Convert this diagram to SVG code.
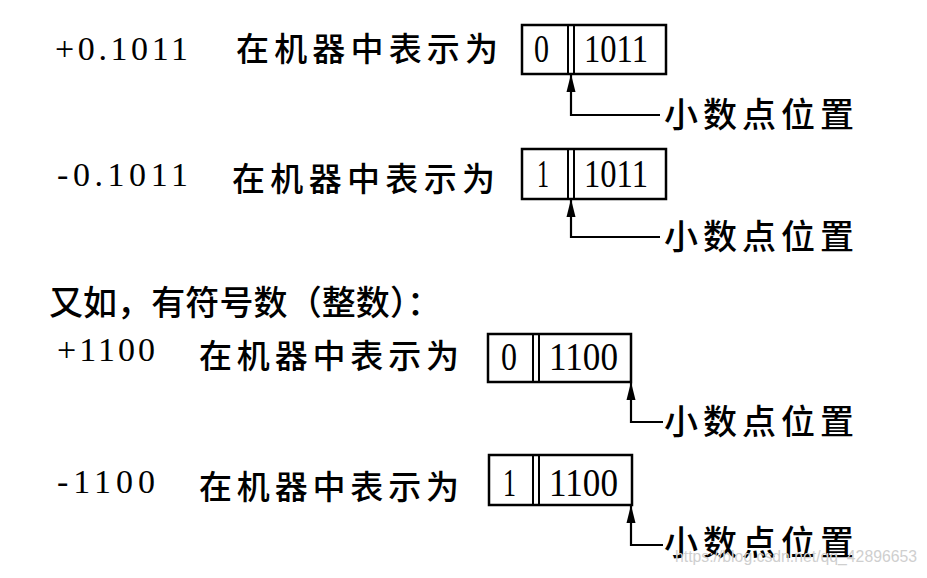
<svg xmlns="http://www.w3.org/2000/svg" width="927" height="578" viewBox="0 0 927 578">
<style>
  .num { font-family: "Liberation Serif", "Times New Roman", serif; font-size: 34px; fill: #000; }
  .cell { font-family: "Liberation Serif", "Times New Roman", serif; font-size: 39px; fill: #000; }
  .cjk { font-family: "Noto Sans CJK SC", sans-serif; font-weight: 500; font-size: 33px; fill: #000; }
  .lbl { font-family: "Noto Sans CJK SC", sans-serif; font-weight: 500; font-size: 34px; fill: #000; }
  .box { fill: #fff; stroke: #000; stroke-width: 2.5; }
  .div { stroke: #000; stroke-width: 2; }
  .conn { fill: none; stroke: #000; stroke-width: 2.2; marker-end: url(#ah); }
  .wm { font-family: "Liberation Sans", Arial, sans-serif; font-size: 16px; fill: #cfcfcf; }
</style>
<defs>
  <marker id="ah" markerWidth="18" markerHeight="10" refX="17" refY="5" orient="auto" markerUnits="userSpaceOnUse" viewBox="0 0 18 10">
    <path d="M18 5 L0 0.5 L0 9.5 Z" fill="#000"/>
  </marker>
</defs>
<rect width="927" height="578" fill="#fff"/>

<g id="row1">
  <text class="num" x="55" y="60" textLength="133" lengthAdjust="spacing">+0.1011</text>
  <text class="cjk" x="236" y="61" textLength="262" lengthAdjust="spacing">在机器中表示为</text>
</g>
<g id="box1">
  <rect class="box" x="522" y="25" width="144" height="49"/>
  <line class="div" x1="568" y1="25" x2="568" y2="74"/>
  <line class="div" x1="574" y1="25" x2="574" y2="74"/>
  <text class="cell" x="534" y="62" textLength="15" lengthAdjust="spacingAndGlyphs">0</text>
  <text class="cell" x="584" y="62" textLength="64" lengthAdjust="spacingAndGlyphs">1011</text>
</g>
<g id="label1"><text class="lbl" x="664" y="127" textLength="190" lengthAdjust="spacing">小数点位置</text></g>

<g id="row2">
  <text class="num" x="57" y="186" textLength="131" lengthAdjust="spacing">-0.1011</text>
  <text class="cjk" x="232" y="191" textLength="263" lengthAdjust="spacing">在机器中表示为</text>
</g>
<g id="box2">
  <rect class="box" x="522" y="149" width="144" height="50"/>
  <line class="div" x1="568" y1="149" x2="568" y2="199"/>
  <line class="div" x1="574" y1="149" x2="574" y2="199"/>
  <text class="cell" x="537" y="187" textLength="12" lengthAdjust="spacingAndGlyphs">1</text>
  <text class="cell" x="584" y="187" textLength="64" lengthAdjust="spacingAndGlyphs">1011</text>
</g>
<g id="label2"><text class="lbl" x="664" y="249" textLength="190" lengthAdjust="spacing">小数点位置</text></g>

<g id="row3">
  <text class="lbl" x="49" y="315" textLength="392" lengthAdjust="spacing">又如，有符号数（整数）：</text>
</g>

<g id="row4">
  <text class="num" x="57" y="361" textLength="98" lengthAdjust="spacing">+1100</text>
  <text class="cjk" x="199" y="368" textLength="260" lengthAdjust="spacing">在机器中表示为</text>
</g>
<g id="box4">
  <rect class="box" x="488" y="334" width="143" height="48"/>
  <line class="div" x1="533" y1="334" x2="533" y2="382"/>
  <line class="div" x1="539" y1="334" x2="539" y2="382"/>
  <text class="cell" x="501" y="370" textLength="16" lengthAdjust="spacingAndGlyphs">0</text>
  <text class="cell" x="549" y="370" textLength="69" lengthAdjust="spacingAndGlyphs">1100</text>
</g>
<g id="label4"><text class="lbl" x="664" y="434" textLength="190" lengthAdjust="spacing">小数点位置</text></g>

<g id="row5">
  <text class="num" x="57" y="493" textLength="98" lengthAdjust="spacing">-1100</text>
  <text class="cjk" x="199" y="499" textLength="260" lengthAdjust="spacing">在机器中表示为</text>
</g>
<g id="box5">
  <rect class="box" x="489" y="455" width="143" height="50"/>
  <line class="div" x1="533" y1="455" x2="533" y2="505"/>
  <line class="div" x1="539" y1="455" x2="539" y2="505"/>
  <text class="cell" x="503" y="496" textLength="13" lengthAdjust="spacingAndGlyphs">1</text>
  <text class="cell" x="549" y="496" textLength="69" lengthAdjust="spacingAndGlyphs">1100</text>
</g>
<g id="label5"><text class="lbl" x="664" y="555" textLength="190" lengthAdjust="spacing">小数点位置</text></g>

<g id="connectors">
  <path class="conn" d="M660 115 H571 V75"/>
  <path class="conn" d="M660 237 H571 V200"/>
  <path class="conn" d="M663 422 H631 V383"/>
  <path class="conn" d="M663 545 H631 V506"/>
</g>

<text class="wm" x="675" y="562" textLength="242" lengthAdjust="spacingAndGlyphs">https://blog.csdn.net/qq_42896653</text>
</svg>
